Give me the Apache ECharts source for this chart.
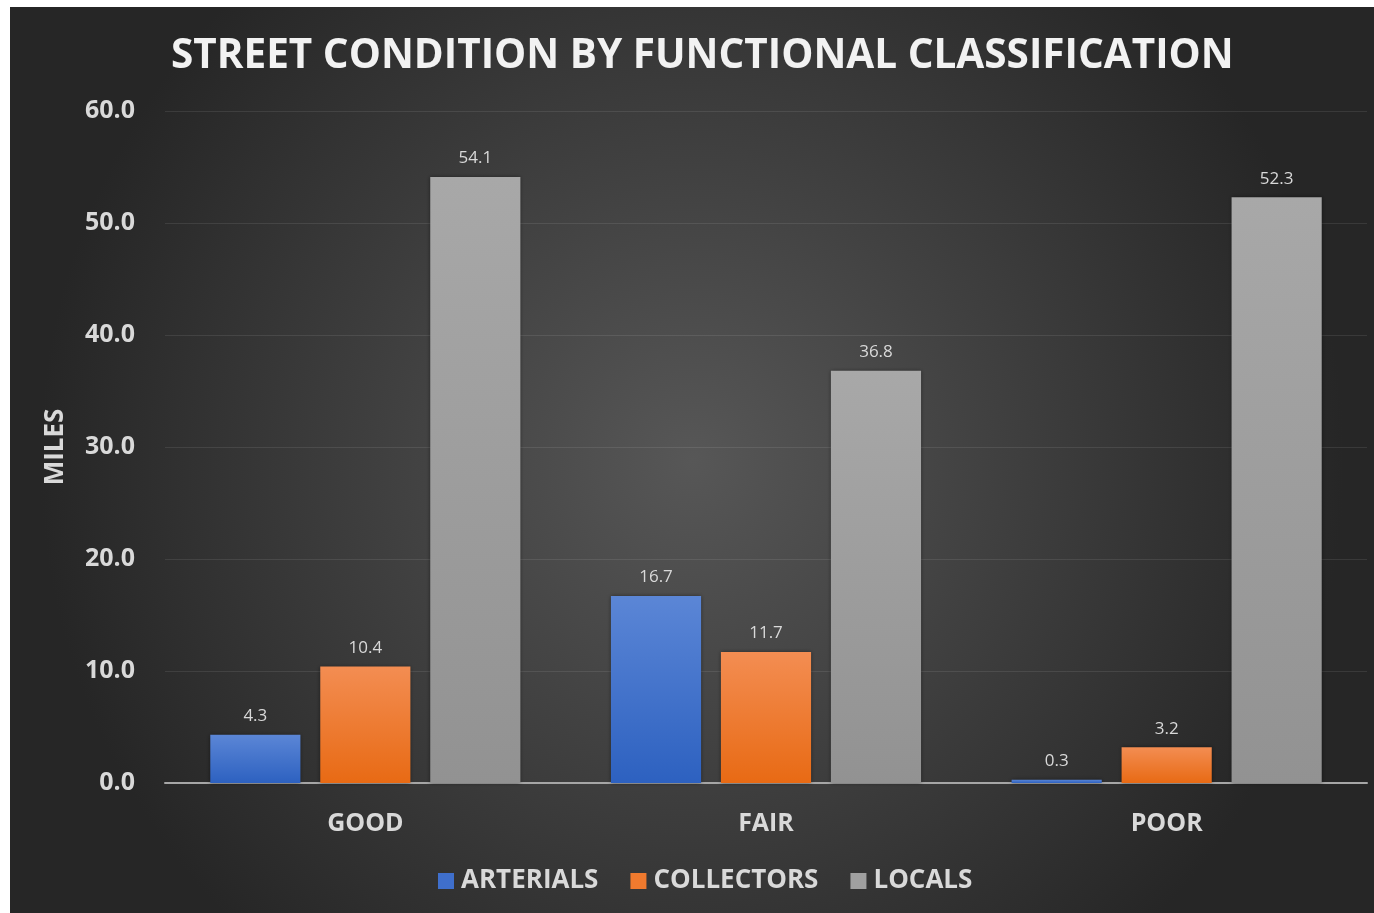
<!DOCTYPE html>
<html>
<head>
<meta charset="utf-8">
<script src="https://cdn.jsdelivr.net/npm/echarts@6/dist/echarts.min.js"></script>
<style>
html,body{margin:0;padding:0;background:#ffffff;}
#chart{position:absolute;left:10px;top:7px;width:1364px;height:906px;}
</style>
</head>
<body>
<div id="chart"></div>
<script>
const categories = ['GOOD', 'FAIR', 'POOR'];
const arterials = [4.3, 16.7, 0.3];
const collectors = [10.4, 11.7, 3.2];
const locals = [54.1, 36.8, 52.3];
const seriesNames = ['ARTERIALS', 'COLLECTORS', 'LOCALS'];
const yTicks = { min: 0, max: 60, interval: 10 };

const FONT = '"Open Sans", sans-serif';
function grad(top, bottom) {
  return { type: 'linear', x: 0, y: 0, x2: 0, y2: 1,
    colorStops: [{ offset: 0, color: top }, { offset: 1, color: bottom }] };
}
const colors = [grad('#5b86d6', '#2d61c0'), grad('#f38d52', '#e86a14'), grad('#a8a8a8', '#929292')];
const legendColors = ['#3f6fcc', '#f07a2e', '#a0a0a0'];
const dataSets = [arterials, collectors, locals];

const chart = echarts.init(document.getElementById('chart'), null, { renderer: 'canvas' });
chart.setOption({
  backgroundColor: { type: 'radial', x: 0.5, y: 0.5, r: 0.72,
    colorStops: [{ offset: 0, color: '#575757' }, { offset: 1, color: '#262626' }] },
  title: {
    text: 'STREET CONDITION BY FUNCTIONAL CLASSIFICATION',
    left: 156, top: 24,
    textStyle: { color: '#f2f2f2', fontFamily: FONT, fontWeight: 'bold', fontSize: 40.5 }
  },
  legend: {
    bottom: 14, left: 423,
    itemWidth: 16, itemHeight: 16, itemGap: 32,
    icon: 'rect',
    data: seriesNames.map((n, i) => ({ name: n, itemStyle: { color: legendColors[i] } })),
    textStyle: { color: '#d9d9d9', fontFamily: FONT, fontWeight: 'bold', fontSize: 26, padding: [0, 0, 0, 2] }
  },
  grid: { left: 155, right: 7, top: 104, bottom: 130, containLabel: false },
  xAxis: {
    type: 'category', data: categories,
    axisLine: { lineStyle: { color: '#a6a6a6', width: 2 } },
    axisTick: { show: false },
    axisLabel: { color: '#d9d9d9', fontFamily: FONT, fontWeight: 'bold', fontSize: 25, margin: 28 }
  },
  yAxis: {
    type: 'value', min: yTicks.min, max: yTicks.max, interval: yTicks.interval,
    name: 'MILES', nameLocation: 'middle', nameGap: 96, nameRotate: 90,
    nameTextStyle: { color: '#d9d9d9', fontFamily: FONT, fontWeight: 'bold', fontSize: 26 },
    axisLine: { show: false }, axisTick: { show: false },
    axisLabel: { color: '#d9d9d9', fontFamily: FONT, fontWeight: 'bold', fontSize: 25, margin: 30,
      formatter: v => v.toFixed(1) },
    splitLine: { lineStyle: { color: 'rgba(255,255,255,0.09)', width: 1 } }
  },
  series: seriesNames.map((n, i) => ({
    name: n, type: 'bar', data: dataSets[i],
    barWidth: '22.5%', barGap: '22%',
    itemStyle: { color: colors[i], shadowBlur: 4, shadowColor: 'rgba(0,0,0,0.45)' },
    label: { show: true, position: 'top', distance: 10, color: '#d9d9d9',
      fontFamily: FONT, fontSize: 17, formatter: p => p.value.toFixed(1) }
  }))
});
</script>
</body>
</html>
